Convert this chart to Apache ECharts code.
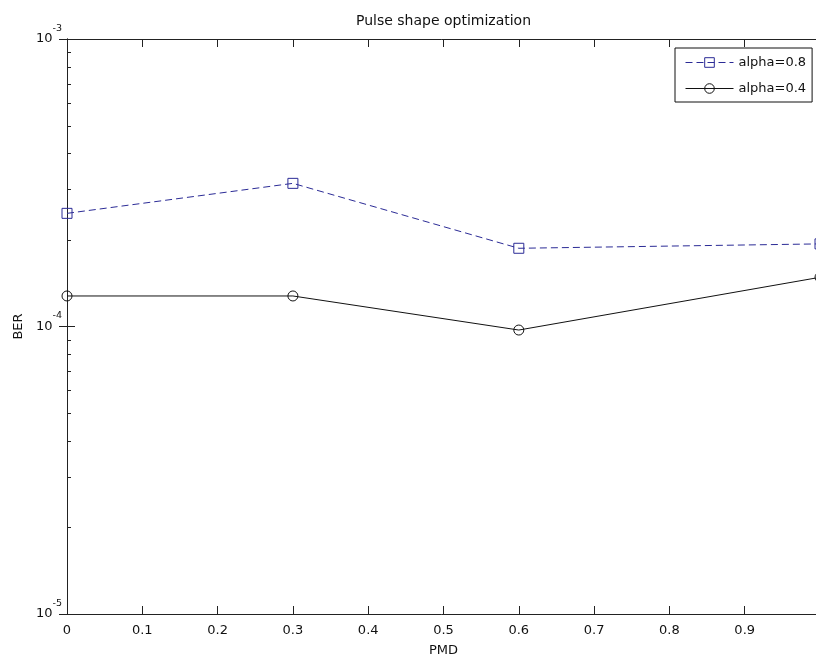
<!DOCTYPE html>
<html>
<head>
<meta charset="utf-8">
<script src="https://cdn.jsdelivr.net/npm/echarts@6/dist/echarts.min.js"></script>
<style>
  html, body { margin: 0; padding: 0; background: #fff; }
  #chart { width: 816px; height: 660px; }
</style>
</head>
<body>
<div id="chart"></div>
<script>
// PMD values along the x axis
const pmd = [0, 0.3, 0.6, 1.0];
// Bit error rate for each roll-off factor
const berAlpha08 = [2.475e-4, 3.147e-4, 1.871e-4, 1.938e-4];
const berAlpha04 = [1.277e-4, 1.277e-4, 9.72e-5, 1.483e-4];
// Series names
const seriesNames = ['alpha=0.8', 'alpha=0.4'];
// Minor tick mantissas inside each decade of the log axis
const minorMantissas = [2, 3, 4, 5, 6, 7, 8, 9];

const FONT = 'DejaVu Sans';
const AXIS_COLOR = '#222';
const BLUE = '#2b2b96';

const pairs = (xs, ys) => xs.map((x, i) => [x, ys[i]]);

const chart = echarts.init(document.getElementById('chart'), null, { renderer: 'canvas' });

const yLabel = {
  margin: 5,
  formatter: v => '{b|10}{s|' + Math.round(Math.log10(v)) + '}',
  rich: {
    b: { fontSize: 13, fontFamily: FONT, color: '#111' },
    s: { fontSize: 9.5, fontFamily: FONT, color: '#111', padding: [0, 0, 21, 0] }
  }
};

const option = {
  animation: false,
  backgroundColor: '#fff',
  title: {
    text: 'Pulse shape optimization',
    left: 443.5,
    top: 14,
    padding: 0,
    textAlign: 'center',
    textStyle: { fontFamily: FONT, fontSize: 14, fontWeight: 'normal', color: '#111' }
  },
  legend: {
    left: 675,
    top: 48,
    orient: 'vertical',
    padding: [8, 6, 7, 10],
    itemWidth: 48,
    itemHeight: 12,
    itemGap: 13,
    backgroundColor: '#fff',
    borderColor: '#111',
    borderWidth: 1,
    borderRadius: 0,
    lineStyle: { width: 1 },
    itemStyle: { borderWidth: 1 },
    textStyle: { fontFamily: FONT, fontSize: 13, color: '#111' },
    data: seriesNames
  },
  grid: { left: 67, top: 39, right: -4, bottom: 46, containLabel: false, outerBoundsMode: 'none' },
  xAxis: [
    {
      type: 'value', min: 0, max: 1, interval: 0.1,
      name: 'PMD', nameLocation: 'middle', nameGap: 30,
      nameTextStyle: { fontFamily: FONT, fontSize: 13, color: '#111' },
      axisLine: { lineStyle: { color: AXIS_COLOR, width: 1 } },
      axisTick: { inside: true, length: 8, lineStyle: { color: AXIS_COLOR } },
      axisLabel: { margin: 10, fontFamily: FONT, fontSize: 13, color: '#111' },
      splitLine: { show: false }
    },
    {
      type: 'value', min: 0, max: 1, interval: 0.1, position: 'top',
      axisLine: { lineStyle: { color: AXIS_COLOR, width: 1 } },
      axisTick: { inside: true, length: 8, lineStyle: { color: AXIS_COLOR } },
      axisLabel: { show: false },
      splitLine: { show: false }
    }
  ],
  yAxis: [
    {
      type: 'log', logBase: 10, min: 1e-5, max: 1e-3, splitNumber: 2,
      name: 'BER', nameLocation: 'middle', nameGap: 42, nameRotate: 90,
      nameTextStyle: { fontFamily: FONT, fontSize: 13, color: '#111' },
      axisLine: { lineStyle: { color: AXIS_COLOR, width: 1 } },
      axisTick: { inside: true, length: 8, lineStyle: { color: AXIS_COLOR } },
      axisLabel: yLabel,
      splitLine: { show: false }
    },
    {
      type: 'log', logBase: 10, min: 1e-5, max: 1e-3, splitNumber: 2, position: 'right',
      axisLine: { lineStyle: { color: AXIS_COLOR, width: 1 } },
      axisTick: { inside: true, length: 8, lineStyle: { color: AXIS_COLOR } },
      axisLabel: { show: false },
      splitLine: { show: false }
    }
  ],
  series: [
    {
      name: seriesNames[0],
      type: 'line',
      data: pairs(pmd, berAlpha08),
      symbol: 'rect',
      symbolSize: 10,
      clip: false,
      lineStyle: { color: BLUE, width: 1, type: [7, 4] },
      itemStyle: { color: 'rgba(0,0,0,0)', borderColor: BLUE, borderWidth: 1 },
      emphasis: { disabled: true }
    },
    {
      name: seriesNames[1],
      type: 'line',
      data: pairs(pmd, berAlpha04),
      symbol: 'circle',
      symbolSize: 10,
      clip: false,
      lineStyle: { color: '#111', width: 1, type: 'solid' },
      itemStyle: { color: 'rgba(0,0,0,0)', borderColor: '#111', borderWidth: 1 },
      emphasis: { disabled: true }
    }
  ]
};

chart.setOption(option);

// Minor ticks at 2..9 x 10^k on both log axes, placed through the axis scale
const xLeft = chart.convertToPixel({ xAxisIndex: 0 }, 0);
const xRight = chart.convertToPixel({ xAxisIndex: 0 }, 1);
const minorLines = [];
for (let k = -5; k < -3; k++) {
  minorMantissas.forEach(m => {
    const y = Math.round(chart.convertToPixel({ yAxisIndex: 0 }, m * Math.pow(10, k))) + 0.5;
    minorLines.push({ type: 'line', shape: { x1: xLeft, y1: y, x2: xLeft + 4, y2: y },
      style: { stroke: AXIS_COLOR, lineWidth: 1 }, silent: true });
    minorLines.push({ type: 'line', shape: { x1: xRight - 4, y1: y, x2: xRight, y2: y },
      style: { stroke: AXIS_COLOR, lineWidth: 1 }, silent: true });
  });
}
chart.setOption({ graphic: minorLines });
</script>
</body>
</html>
